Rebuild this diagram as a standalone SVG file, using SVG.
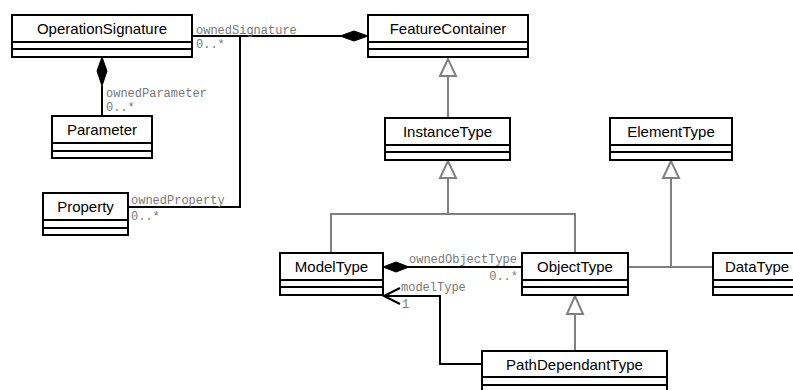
<svg xmlns="http://www.w3.org/2000/svg" width="793" height="390" viewBox="0 0 793 390">
<style>
.box{fill:#fff;stroke:#000;stroke-width:2}
.sep{stroke:#000;stroke-width:2}
.name{font-family:"Liberation Sans",Arial,sans-serif;font-size:15px;fill:#000;text-anchor:middle}
.lbl{font-family:"Liberation Mono","Courier New",monospace;font-size:12px;fill:#777}
.assoc{fill:none;stroke:#000;stroke-width:2}
.gen{fill:none;stroke:#808080;stroke-width:2}
.tri{fill:#fff;stroke:#808080;stroke-width:2}
.dia{fill:#000;stroke:#000;stroke-width:1}
</style>
<rect width="793" height="390" fill="#fff"/>
<g id="connectors">
  <!-- OperationSignature -> FeatureContainer composition -->
  <polyline class="assoc" points="192,36 341,36"/>
  <polygon class="dia" points="340,36 354,31 368,36 354,41"/>
  <polyline class="assoc" points="240,36 240,207 128,207"/>
  <text class="lbl" x="196" y="34">ownedSignature</text>
  <text class="lbl" x="196" y="48">0..*</text>
  <text class="lbl" x="131" y="204">ownedProperty</text>
  <text class="lbl" x="131" y="220">0..*</text>
  <!-- OperationSignature - Parameter -->
  <polygon class="dia" points="102,57 97,71 102,86 107,71"/>
  <line class="assoc" x1="102" y1="86" x2="102" y2="116"/>
  <text class="lbl" x="106" y="97">ownedParameter</text>
  <text class="lbl" x="106" y="111">0..*</text>
  <!-- Generalizations -->
  <line class="gen" x1="448" y1="76" x2="448" y2="118"/>
  <polygon class="tri" points="448,59 440,76 456,76"/>
  <polyline class="gen" points="331,253 331,214 575,214 575,253"/>
  <line class="gen" x1="448" y1="178" x2="448" y2="214"/>
  <polygon class="tri" points="448,161 440,178 456,178"/>
  <polyline class="gen" points="628,267 713,267"/>
  <line class="gen" x1="671" y1="178" x2="671" y2="267"/>
  <polygon class="tri" points="671,161 663,178 679,178"/>
  <line class="gen" x1="575" y1="314" x2="575" y2="351"/>
  <polygon class="tri" points="575,296 567,314 583,314"/>
  <!-- ModelType - ObjectType composition -->
  <line class="assoc" x1="408" y1="267" x2="522" y2="267"/>
  <polygon class="dia" points="383,267 396,262 409,267 396,272"/>
  <text class="lbl" x="409" y="263">ownedObjectType</text>
  <text class="lbl" x="518" y="280" text-anchor="end">0..*</text>
  <!-- PathDependantType -> ModelType -->
  <polyline class="assoc" points="482,364 440,364 440,296 384,296"/>
  <polyline class="assoc" points="400,288 384,296 400,304"/>
  <text class="lbl" x="401" y="291">modelType</text>
  <text class="lbl" x="402" y="308">1</text>
</g>
<g id="OperationSignature">
  <rect class="box" x="12" y="15" width="180" height="42"/>
  <line class="sep" x1="12" y1="42" x2="192" y2="42"/>
  <line class="sep" x1="12" y1="49" x2="192" y2="49"/>
  <text class="name" x="102" y="34">OperationSignature</text>
</g>
<g id="FeatureContainer">
  <rect class="box" x="368" y="15" width="160" height="42"/>
  <line class="sep" x1="368" y1="42" x2="528" y2="42"/>
  <line class="sep" x1="368" y1="49" x2="528" y2="49"/>
  <text class="name" x="448" y="34">FeatureContainer</text>
</g>
<g id="Parameter">
  <rect class="box" x="52" y="116" width="100" height="42"/>
  <line class="sep" x1="52" y1="143" x2="152" y2="143"/>
  <line class="sep" x1="52" y1="151" x2="152" y2="151"/>
  <text class="name" x="102" y="135">Parameter</text>
</g>
<g id="InstanceType">
  <rect class="box" x="385" y="118" width="125" height="42"/>
  <line class="sep" x1="385" y1="145" x2="510" y2="145"/>
  <line class="sep" x1="385" y1="152" x2="510" y2="152"/>
  <text class="name" x="447.5" y="137">InstanceType</text>
</g>
<g id="ElementType">
  <rect class="box" x="610" y="118" width="122" height="42"/>
  <line class="sep" x1="610" y1="145" x2="732" y2="145"/>
  <line class="sep" x1="610" y1="152" x2="732" y2="152"/>
  <text class="name" x="671" y="137">ElementType</text>
</g>
<g id="Property">
  <rect class="box" x="43" y="193" width="85" height="42"/>
  <line class="sep" x1="43" y1="220" x2="128" y2="220"/>
  <line class="sep" x1="43" y1="228" x2="128" y2="228"/>
  <text class="name" x="85.5" y="212">Property</text>
</g>
<g id="ModelType">
  <rect class="box" x="280" y="253" width="103" height="42"/>
  <line class="sep" x1="280" y1="280" x2="383" y2="280"/>
  <line class="sep" x1="280" y1="287" x2="383" y2="287"/>
  <text class="name" x="331.5" y="272">ModelType</text>
</g>
<g id="ObjectType">
  <rect class="box" x="522" y="253" width="106" height="42"/>
  <line class="sep" x1="522" y1="280" x2="628" y2="280"/>
  <line class="sep" x1="522" y1="287" x2="628" y2="287"/>
  <text class="name" x="575" y="272">ObjectType</text>
</g>
<g id="DataType">
  <rect class="box" x="713" y="253" width="90" height="42"/>
  <line class="sep" x1="713" y1="280" x2="803" y2="280"/>
  <line class="sep" x1="713" y1="287" x2="803" y2="287"/>
  <text class="name" x="757" y="272">DataType</text>
</g>
<g id="PathDependantType">
  <rect class="box" x="482" y="351" width="185" height="42"/>
  <line class="sep" x1="482" y1="377" x2="667" y2="377"/>
  <line class="sep" x1="482" y1="385" x2="667" y2="385"/>
  <text class="name" x="574.5" y="370">PathDependantType</text>
</g>
</svg>
